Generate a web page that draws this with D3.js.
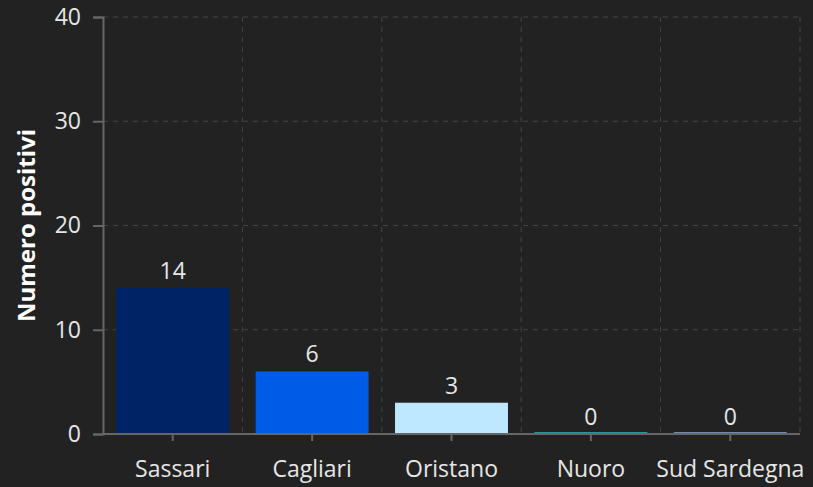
<!DOCTYPE html>
<html>
<head>
<meta charset="utf-8">
<script src="https://cdn.jsdelivr.net/npm/d3@7"></script>
<style>
  body { margin: 0; background: #222222; }
  svg { display: block; }
  text { font-family: "Open Sans", "Noto Sans", sans-serif; }
</style>
</head>
<body>
<svg width="813" height="487"></svg>
<script>
// Chart data.
const provinces = ["Sassari", "Cagliari", "Oristano", "Nuoro", "Sud Sardegna"];
const positives = [14, 6, 3, 0, 0];
const barColours = ["#002366", "#005ce6", "#bee8ff", "#2a94a8", "#6b8db5"];
const yTicks = [0, 10, 20, 30, 40];

let svg = d3.select("svg");
let margin = { left: 103, right: 13, top: 17, bottom: 53 };
let width = +svg.attr("width") - margin.left - margin.right;
let height = +svg.attr("height") - margin.top - margin.bottom;

let g = svg.append("g").attr("transform", `translate(${margin.left},${margin.top})`);

let x = d3.scaleBand().domain(provinces).range([0, width]).paddingInner(0.19).paddingOuter(0.095);
let y = d3.scaleLinear().domain([0, 40]).range([height, 0]);

// Dashed grid lines.
g.append("g").selectAll("line").data(yTicks.slice(1)).join("line")
  .attr("x1", 0).attr("x2", width)
  .attr("y1", d => y(d)).attr("y2", d => y(d))
  .style("stroke", "#444").style("stroke-dasharray", "5,5");

let step = x.step();
g.append("g").selectAll("line").data(d3.range(1, provinces.length + 1)).join("line")
  .attr("x1", d => d * step).attr("x2", d => d * step)
  .attr("y1", 0).attr("y2", height)
  .style("stroke", "#444").style("stroke-dasharray", "5,5");

// Bars (zero values still show as a thin line).
g.selectAll("rect.bar").data(provinces).join("rect")
  .attr("class", "bar")
  .attr("x", d => x(d))
  .attr("width", x.bandwidth())
  .attr("y", (d, i) => Math.min(y(positives[i]), height - 2))
  .attr("height", (d, i) => Math.max(height - y(positives[i]), 2))
  .style("fill", (d, i) => barColours[i]);

// Value labels.
g.selectAll("text.val").data(provinces).join("text")
  .attr("class", "val")
  .attr("x", d => x(d) + x.bandwidth() / 2)
  .attr("y", (d, i) => y(positives[i]) - 9)
  .attr("text-anchor", "middle")
  .style("fill", "#e6e6e6").style("font-size", "23px")
  .text((d, i) => positives[i]);

// Axes.
let yAxis = g.append("g").call(d3.axisLeft(y).tickValues(yTicks).tickSize(10).tickPadding(12));
let xAxis = g.append("g").attr("transform", `translate(0,${height})`)
  .call(d3.axisBottom(x).tickSize(7).tickPadding(20));

[yAxis, xAxis].forEach(a => {
  a.select(".domain").style("stroke", "#666").style("stroke-width", 2);
  a.selectAll(".tick line").style("stroke", "#666").style("stroke-width", 2);
  a.selectAll(".tick text").style("fill", "#e6e6e6").style("font-size", "23px")
    .style("font-family", "'Open Sans', 'Noto Sans', sans-serif");
});
xAxis.select(".domain").attr("d", `M0,0H${width}`);

// Axis title.
svg.append("text")
  .attr("transform", `translate(35,${margin.top + height / 2}) rotate(-90)`)
  .attr("text-anchor", "middle")
  .style("fill", "#ffffff").style("font-size", "24px").style("font-weight", "bold")
  .text("Numero positivi");
</script>
</body>
</html>
